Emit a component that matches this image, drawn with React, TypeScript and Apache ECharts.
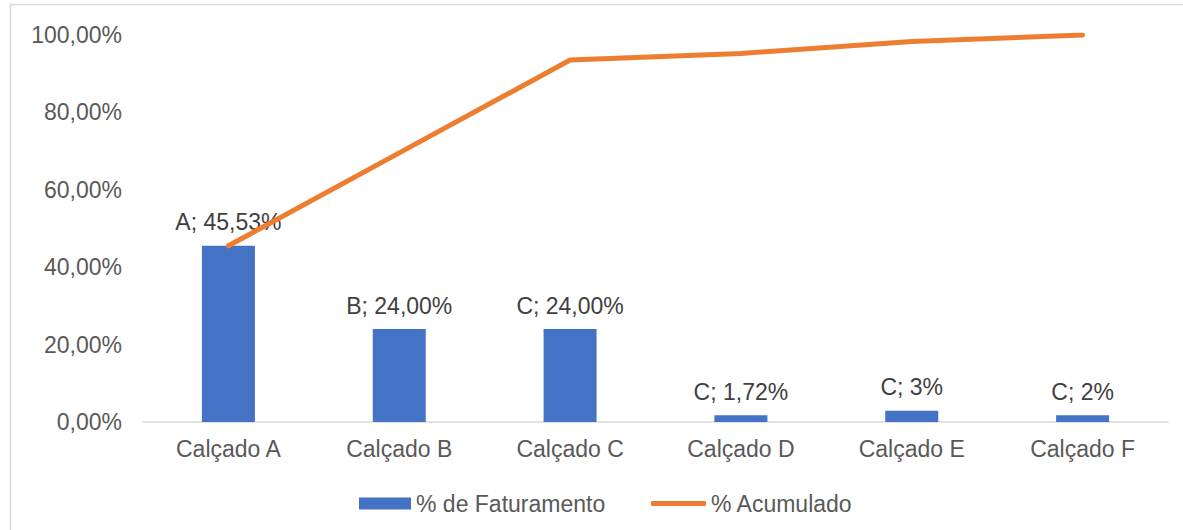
import React, { useEffect, useRef } from "react";
import * as echarts from "echarts";

const categories = ["Calçado A", "Calçado B", "Calçado C", "Calçado D", "Calçado E", "Calçado F"];
const faturamento = [45.53, 24.0, 24.0, 1.72, 2.9, 1.75];
const acumulado = [45.53, 69.53, 93.53, 95.25, 98.3, 100.0];
const barLabels = ["A; 45,53%", "B; 24,00%", "C; 24,00%", "C; 1,72%", "C; 3%", "C; 2%"];
const yTicks = { min: 0, max: 100, interval: 20 };

const FONT = "'Liberation Sans', Arial, sans-serif";

export default function App() {
  const ref = useRef<HTMLDivElement>(null);
  useEffect(() => {
    if (!ref.current) return;
    const chart = echarts.init(ref.current, undefined, { renderer: "svg" });
    const legendText = { fontSize: 23, color: "#595959", fontFamily: FONT };
    chart.setOption({
      animation: false,
      backgroundColor: "#ffffff",
      textStyle: { fontFamily: FONT },
      graphic: [
        {
          type: "rect",
          shape: { x: 10.5, y: 4.5, width: 1400, height: 700 },
          style: { fill: "none", stroke: "#d9d9d9", lineWidth: 1.5 },
          silent: true,
          z: -1,
        },
      ],
      grid: { left: 143, right: 15, top: 35, bottom: 108, containLabel: false },
      legend: [
        {
          left: 354,
          top: 487,
          itemWidth: 52,
          itemHeight: 12,
          textStyle: legendText,
          data: [{ name: "% de Faturamento", icon: "rect" }],
        },
        {
          left: 646,
          top: 487,
          itemWidth: 55,
          itemHeight: 5,
          textStyle: legendText,
          data: [{ name: "% Acumulado", icon: "roundRect" }],
        },
      ],
      xAxis: {
        type: "category",
        data: categories,
        axisLine: { lineStyle: { color: "#d9d9d9", width: 1.5 } },
        axisTick: { show: false },
        axisLabel: { fontSize: 23, color: "#595959", margin: 15, fontFamily: FONT },
      },
      yAxis: {
        type: "value",
        min: yTicks.min,
        max: yTicks.max,
        interval: yTicks.interval,
        splitLine: { show: false },
        axisLine: { show: false },
        axisTick: { show: false },
        axisLabel: {
          fontSize: 23,
          color: "#595959",
          margin: 21,
          fontFamily: FONT,
          formatter: (v: number) => v.toFixed(2).replace(".", ",") + "%",
        },
      },
      series: [
        {
          name: "% de Faturamento",
          type: "bar",
          data: faturamento,
          barWidth: 53,
          itemStyle: { color: "#4472C4" },
          label: {
            show: true,
            position: "top",
            distance: 12,
            fontSize: 23,
            color: "#404040",
            fontFamily: FONT,
            formatter: (p: any) => barLabels[p.dataIndex],
          },
          z: 2,
        },
        {
          name: "% Acumulado",
          type: "line",
          data: acumulado,
          symbol: "none",
          lineStyle: { color: "#ED7D31", width: 5, cap: "round", join: "round" },
          itemStyle: { color: "#ED7D31" },
          z: 3,
        },
      ],
    });
    return () => chart.dispose();
  }, []);
  return (
    <div
      ref={ref}
      style={{ position: "fixed", left: 0, top: 0, width: 1183, height: 530 }}
    />
  );
}
